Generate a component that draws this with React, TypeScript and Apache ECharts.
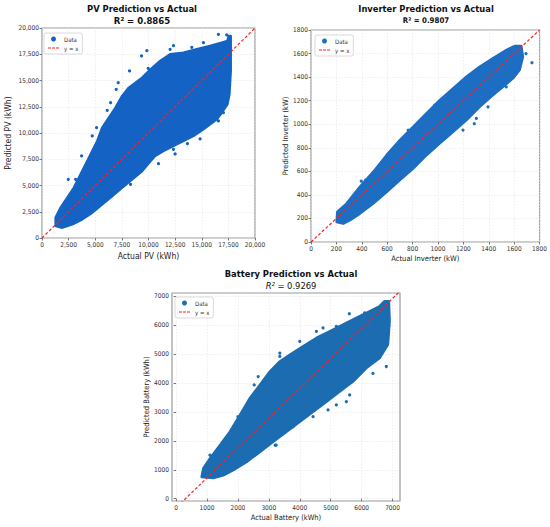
import React, { useEffect, useRef } from 'react';
import * as echarts from 'echarts';

const FONT = "'DejaVu Sans Condensed', 'DejaVu Sans', sans-serif";

// ---- PV panel ----
const pvTicks = [0, 2500, 5000, 7500, 10000, 12500, 15000, 17500, 20000];
const pvEnvelope = [
  [1281, 1143], [1281, 1937], [1750, 2889], [2375, 3842], [3000, 4794], [3625, 6064],
  [4250, 7334], [4719, 8287], [5188, 9239], [5656, 10509], [6281, 11462], [6906, 12414],
  [7531, 13526], [8156, 14319], [8781, 14795], [9406, 15272], [10031, 15900], [11094, 16859],
  [12031, 17494], [13281, 17653], [14531, 17971], [15781, 18288], [16875, 18605], [17406, 18764],
  [17531, 19241], [17719, 19241], [17719, 18129], [17719, 15907], [17594, 13684], [17406, 12731],
  [16875, 11938], [16406, 11303], [15781, 10827], [15156, 10351], [14219, 9716], [13281, 9239],
  [12344, 8763], [11406, 8287], [10625, 7811], [10156, 7300], [9406, 6382], [8469, 5588],
  [7531, 4794], [6594, 4000], [5656, 3207], [4719, 2413], [3781, 1778], [2844, 1302], [1906, 984],
];
const pvOutliers = [
  [3719, 7811], [3156, 5588], [2469, 5588], [4719, 9716], [5125, 10509], [6125, 12160],
  [6438, 12890], [6969, 14160], [7156, 14795], [8219, 15907], [9344, 17336], [9969, 16161],
  [8313, 5112], [8219, 5905], [4719, 2730], [3156, 1619], [17031, 11938], [16563, 11144],
  [13656, 8985], [12344, 8446], [10938, 7080], [12031, 17971], [15156, 18605], [16563, 19399],
  [17344, 19335], [9844, 17844], [12344, 18320], [14063, 18161], [14844, 9430], [12500, 8001],
];
const pvRef = [[0, 0], [20000, 20000]];

// ---- Inverter panel ----
const invTicks = [0, 200, 400, 600, 800, 1000, 1200, 1400, 1600, 1800];
const invEnvelope = [
  [202, 170], [207, 255], [280, 326], [385, 468], [490, 595], [595, 737], [700, 865],
  [804, 978], [909, 1092], [1014, 1205], [1119, 1304], [1224, 1403], [1328, 1488],
  [1433, 1559], [1538, 1630], [1603, 1664], [1656, 1664], [1669, 1573], [1643, 1460],
  [1590, 1389], [1512, 1318], [1433, 1247], [1328, 1148], [1224, 1035], [1119, 935],
  [1014, 837], [909, 737], [804, 624], [700, 525], [595, 425], [490, 326], [385, 241],
  [307, 185], [254, 156],
];
const invOutliers = [
  [1740, 1522], [975, 1162], [1302, 1049], [1197, 950], [430, 525], [765, 950],
  [1538, 1318], [542, 638], [1394, 1148], [1693, 1599], [396, 516], [1286, 1004],
];
const invRef = [[0, 0], [1800, 1800]];

// ---- Battery panel ----
const batTicks = [0, 1000, 2000, 3000, 4000, 5000, 6000, 7000];
const batEnvelope = [
  [828, 750], [882, 1042], [1097, 1389], [1419, 1851], [1742, 2314], [2065, 2892],
  [2387, 3472], [2710, 3934], [3032, 4396], [3355, 4743], [3678, 4975], [4107, 5264],
  [4538, 5555], [4968, 5785], [5398, 6017], [5829, 6250], [6258, 6479], [6581, 6652],
  [6742, 6826], [6881, 6826], [6904, 6132], [6849, 5323], [6581, 4861], [6152, 4514],
  [5720, 4048], [5291, 3701], [4862, 3354], [4430, 3007], [4000, 2660], [3571, 2312],
  [3139, 1965], [2710, 1618], [2281, 1271], [1848, 983], [1526, 809], [1203, 715],
];
const batOutliers = [
  [4752, 5902], [6097, 6423], [3355, 5034], [3355, 4919], [2656, 4222], [2527, 3934],
  [6797, 4569], [6366, 4328], [5613, 3587], [5506, 3354], [4914, 3066], [5183, 3239],
  [4430, 2834], [3785, 2487], [3204, 1851], [1097, 1504], [5183, 5958], [4538, 5785],
  [4000, 5438], [5602, 6393], [6301, 6416], [3237, 1850], [2000, 2832],
];
const batRef = [[150, -160], [7240, 7170]];

const titles = [
  { text: 'PV Prediction vs Actual', x: 142, y: 8 },
  { text: 'Inverter Prediction vs Actual', x: 426, y: 8 },
  { text: 'Battery Prediction vs Actual', x: 291, y: 273 },
];

const comma = (v: number) => v.toLocaleString('en-US');
const DASH_ICON = 'path://M0,0h3v1h-3z M4,0h3v1h-3z M8,0h3v1h-3z';

function polySeries(name: string, env: number[][], idx: number, color: string) {
  return {
    type: 'custom',
    name,
    xAxisIndex: idx,
    yAxisIndex: idx,
    data: env,
    encode: { x: 0, y: 1 },
    clip: true,
    z: 2,
    itemStyle: { color },
    renderItem: (params: any, api: any) => {
      if (params.dataIndex !== 0) return null;
      const pts = env.map((p) => api.coord(p));
      return {
        type: 'polygon',
        shape: { points: pts },
        style: { fill: color, stroke: color, lineWidth: 2.5, lineJoin: 'round' },
      };
    },
  };
}

function scatterSeries(name: string, pts: number[][], idx: number, color: string) {
  return {
    type: 'scatter',
    name,
    xAxisIndex: idx,
    yAxisIndex: idx,
    data: pts,
    symbolSize: 3.2,
    itemStyle: { color, opacity: 1 },
    z: 3,
  };
}

function refSeries(pts: number[][], idx: number) {
  return {
    type: 'line',
    name: 'y = x',
    xAxisIndex: idx,
    yAxisIndex: idx,
    data: pts,
    showSymbol: false,
    symbol: 'none',
    clip: true,
    lineStyle: { color: '#ff1f1f', width: 1.2, type: [3, 2] },
    itemStyle: { color: '#ff1f1f' },
    z: 5,
  };
}

function axisCommon(min: number, max: number, ticks: number[], fmt: (v: number) => string) {
  return {
    type: 'value',
    min,
    max,
    axisLine: { show: false },
    axisTick: { show: true, length: 2.5, lineStyle: { color: '#555', width: 0.8 }, customValues: ticks },
    axisLabel: {
      customValues: ticks,
      formatter: (v: number) => fmt(v),
      fontSize: 6.5,
      color: '#333',
      fontFamily: FONT,
      margin: 3,
    },
    splitLine: { show: true, lineStyle: { color: '#e4e4e4', width: 0.6, type: [1.5, 1.5] } },
  };
}

function legendFor(left: number, top: number, color: string) {
  return {
    left,
    top,
    orient: 'vertical',
    itemWidth: 11,
    itemHeight: 5,
    itemGap: 3,
    padding: [3, 4, 3, 4],
    borderColor: '#d0d0d0',
    borderWidth: 0.8,
    borderRadius: 2,
    backgroundColor: '#fff',
    symbolKeepAspect: true,
    textStyle: { fontSize: 6, fontFamily: FONT, color: '#333', padding: [0, 0, 0, 0] },
    data: [
      { name: 'Data', icon: 'circle', itemStyle: { color } },
      { name: 'y = x', icon: DASH_ICON, itemStyle: { color: '#ff1f1f', borderWidth: 0 } },
    ],
    selectedMode: false,
  };
}

export default function App() {
  const ref = useRef<HTMLDivElement>(null);
  useEffect(() => {
    if (!ref.current) return;
    const chart = echarts.init(ref.current, undefined, { renderer: 'svg' });
    const pvColor = '#1463c4';
    const invColor = '#1d6ec2';
    const batColor = '#1c6cb2';
    const option: any = {
      animation: false,
      backgroundColor: '#fff',
      textStyle: { fontFamily: FONT },
      grid: [
        { left: 42, top: 28, width: 213, height: 210, show: true, borderColor: '#9a9a9a', borderWidth: 1.2, backgroundColor: 'transparent' },
        { left: 311, top: 30, width: 229, height: 212, show: true, borderColor: '#9a9a9a', borderWidth: 1.2, backgroundColor: 'transparent' },
        { left: 172, top: 293, width: 228, height: 208, show: true, borderColor: '#9a9a9a', borderWidth: 1.2, backgroundColor: 'transparent' },
      ],
      xAxis: [
        { ...axisCommon(0, 20000, pvTicks, comma), gridIndex: 0, name: 'Actual PV (kWh)', nameLocation: 'middle', nameGap: 13, nameTextStyle: { fontSize: 8.5, color: '#222', fontFamily: FONT } },
        { ...axisCommon(0, 1800, invTicks, String), gridIndex: 1, name: 'Actual Inverter (kW)', nameLocation: 'middle', nameGap: 12, nameTextStyle: { fontSize: 7.5, color: '#222', fontFamily: FONT } },
        { ...axisCommon(-130, 7240, batTicks, String), gridIndex: 2, name: 'Actual Battery (kWh)', nameLocation: 'middle', nameGap: 12, nameTextStyle: { fontSize: 7.5, color: '#222', fontFamily: FONT } },
      ],
      yAxis: [
        { ...axisCommon(0, 20000, pvTicks, comma), gridIndex: 0, name: 'Predicted PV (kWh)', nameLocation: 'middle', nameGap: 30, nameTextStyle: { fontSize: 8.5, color: '#222', fontFamily: FONT } },
        { ...axisCommon(0, 1800, invTicks, String), gridIndex: 1, name: 'Predicted Inverter (kW)', nameLocation: 'middle', nameGap: 19, nameTextStyle: { fontSize: 7.5, color: '#222', fontFamily: FONT } },
        { ...axisCommon(-80, 7110, batTicks, String), gridIndex: 2, name: 'Predicted Battery (kWh)', nameLocation: 'middle', nameGap: 19, nameTextStyle: { fontSize: 7.5, color: '#222', fontFamily: FONT } },
      ],
      legend: [legendFor(44, 33, pvColor), legendFor(315, 35, invColor), legendFor(175, 297, batColor)],
      series: [
        polySeries('Data', pvEnvelope, 0, pvColor),
        scatterSeries('Data', pvOutliers, 0, pvColor),
        refSeries(pvRef, 0),
        polySeries('Data', invEnvelope, 1, invColor),
        scatterSeries('Data', invOutliers, 1, invColor),
        refSeries(invRef, 1),
        polySeries('Data', batEnvelope, 2, batColor),
        scatterSeries('Data', batOutliers, 2, batColor),
        refSeries(batRef, 2),
      ],
      graphic: [
        ...titles.map((t) => ({
          type: 'text',
          x: t.x,
          y: t.y,
          style: { text: t.text, font: `bold 9.3px ${FONT}`, fill: '#111', align: 'center', verticalAlign: 'middle' },
        })),
        { type: 'text', x: 142, y: 20, style: { text: 'R² = 0.8865', font: `bold 9.5px ${FONT}`, fill: '#111', align: 'center', verticalAlign: 'middle' } },
        { type: 'text', x: 426, y: 20, style: { text: 'R² = 0.9807', font: `bold 7.8px ${FONT}`, fill: '#111', align: 'center', verticalAlign: 'middle' } },
        {
          type: 'text',
          x: 291,
          y: 285,
          style: {
            text: '{i|R²} = 0.9269',
            font: `9.3px ${FONT}`,
            fill: '#111',
            align: 'center',
            verticalAlign: 'middle',
            rich: { i: { fontStyle: 'italic', fontSize: 9.3, fontFamily: FONT, fill: '#111' } },
          },
        },
      ],
    };
    chart.setOption(option);
    return () => chart.dispose();
  }, []);
  return <div ref={ref} style={{ position: 'fixed', left: 0, top: 0, width: 550, height: 527, background: '#fff' }} />;
}
